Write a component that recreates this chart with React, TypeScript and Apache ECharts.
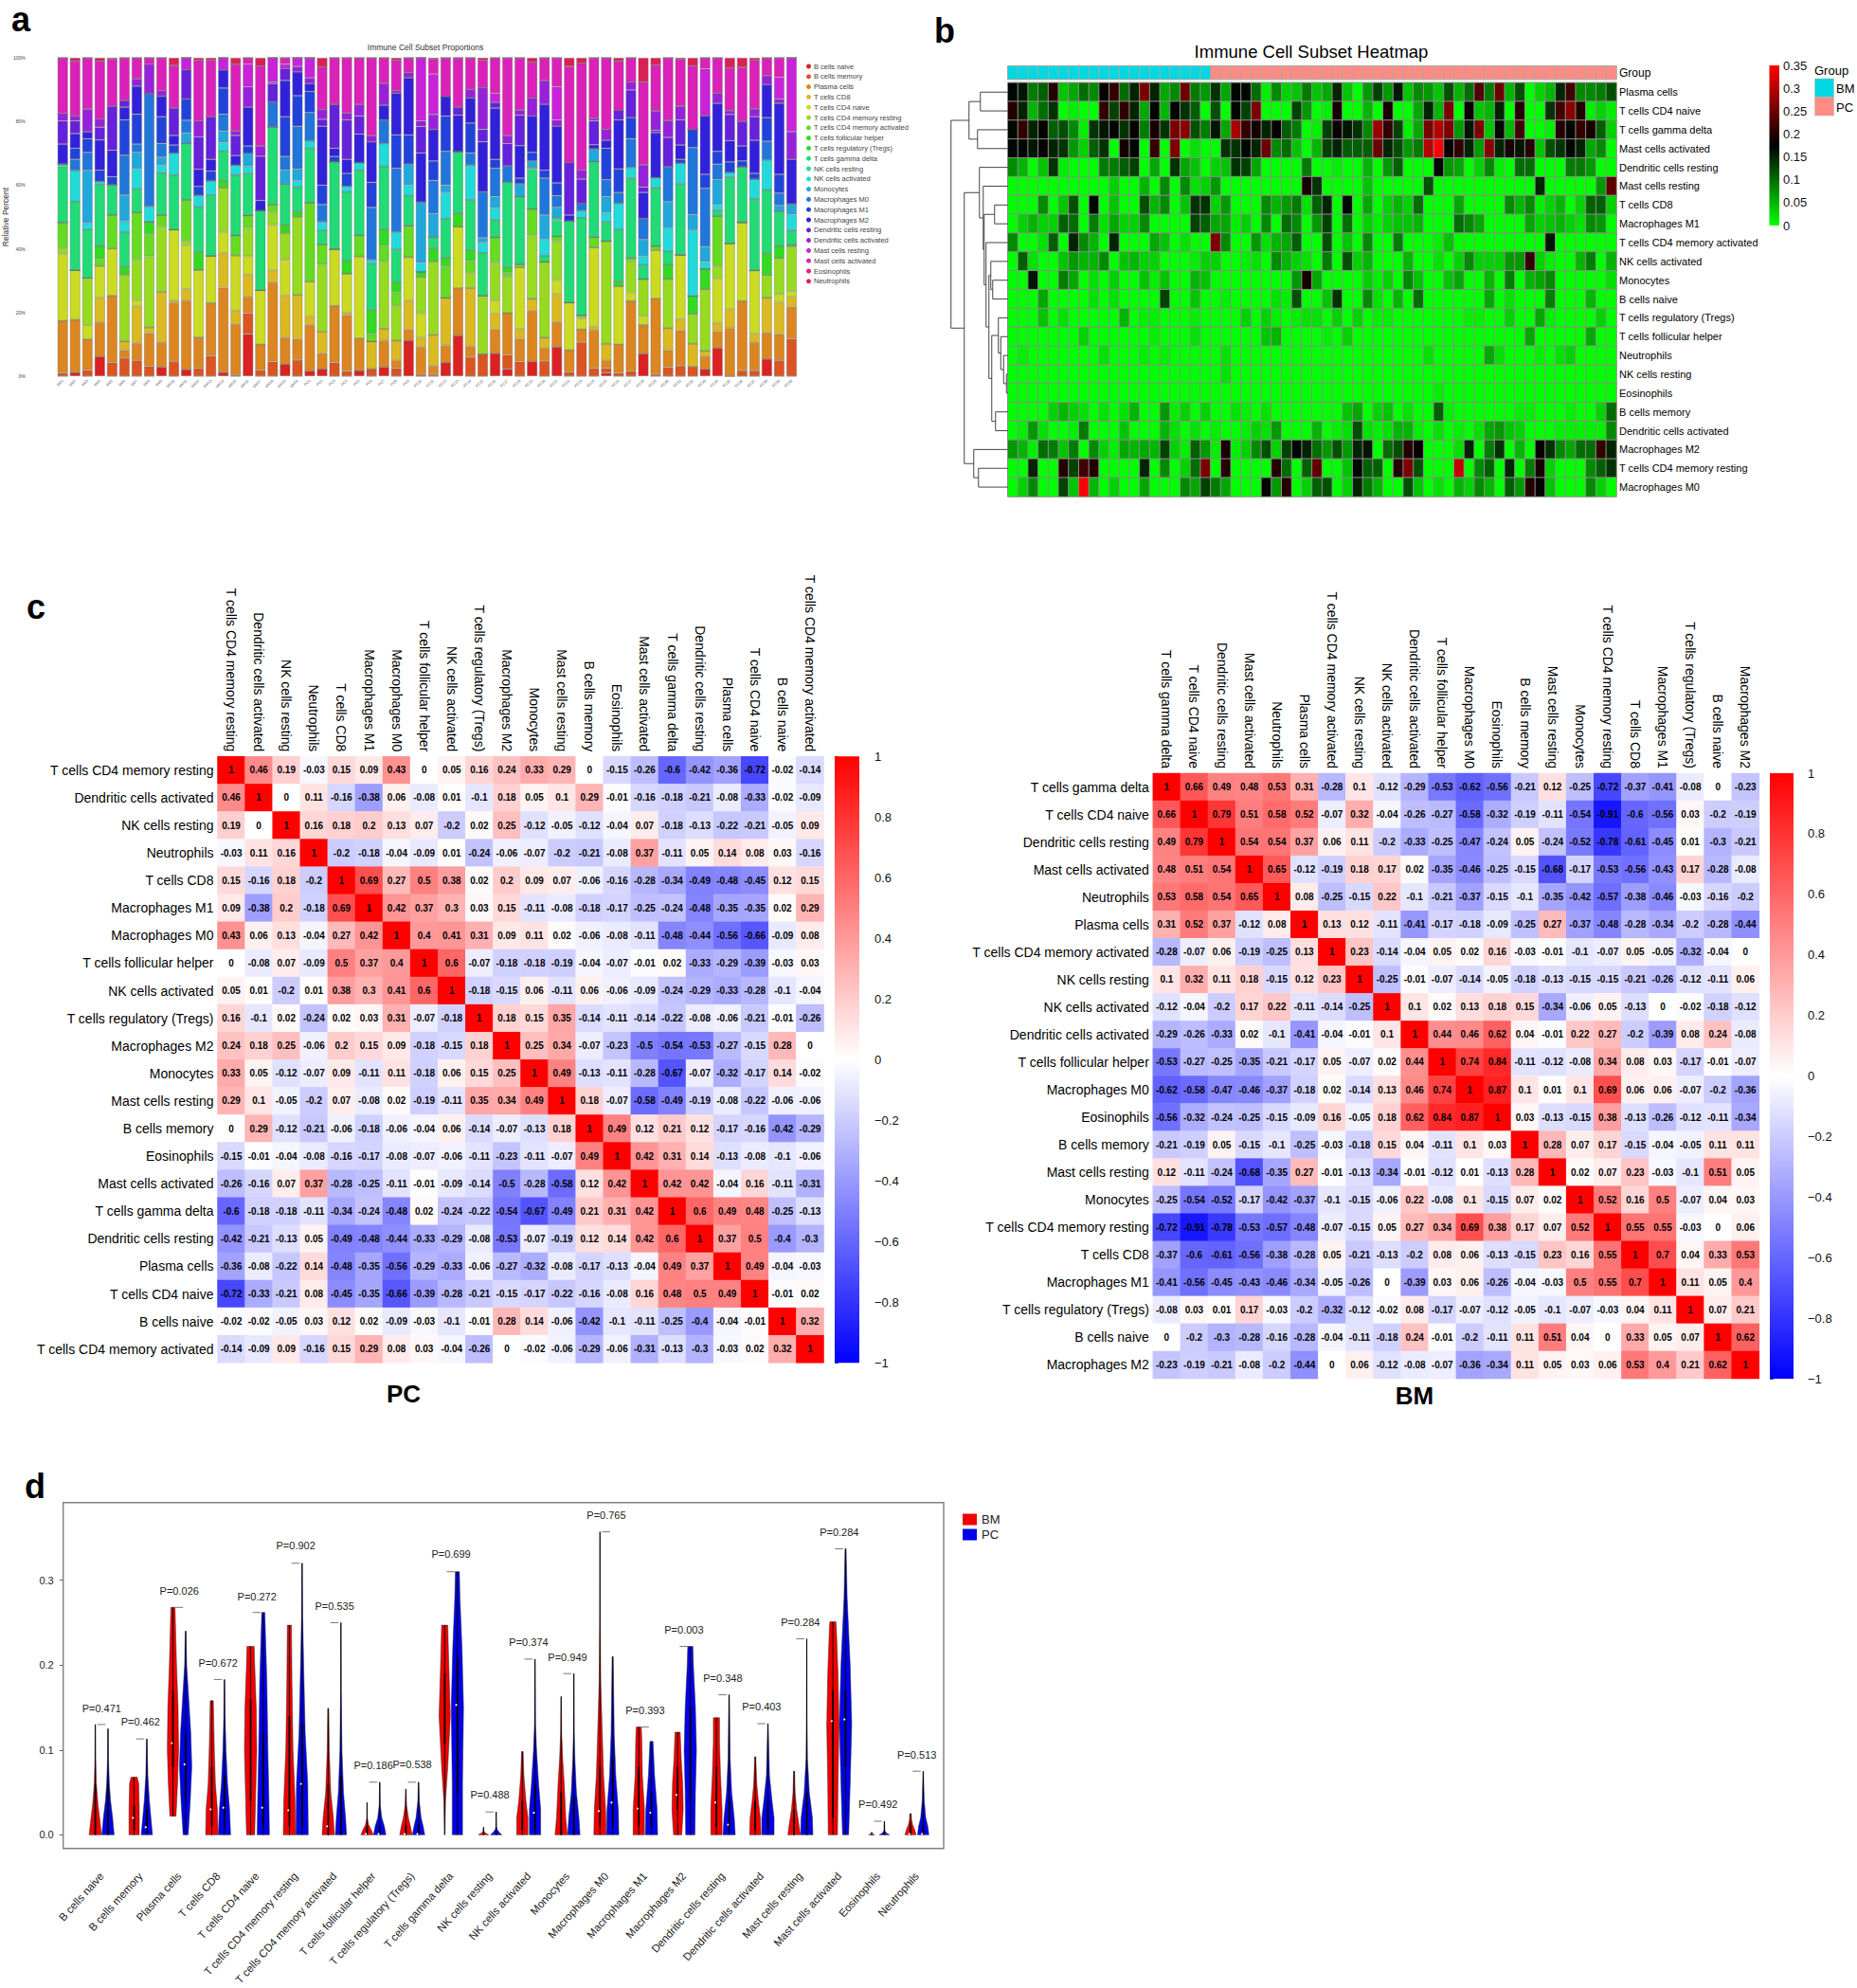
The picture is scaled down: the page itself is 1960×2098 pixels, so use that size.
import React, { useEffect, useRef } from "react";
import * as echarts from "echarts";

const FONT = "Liberation Sans";

// ---------- panel a: stacked proportions ----------
const cellTypes = ["B cells naive","B cells memory","Plasma cells","T cells CD8","T cells CD4 naive","T cells CD4 memory resting","T cells CD4 memory activated","T cells follicular helper","T cells regulatory (Tregs)","T cells gamma delta","NK cells resting","NK cells activated","Monocytes","Macrophages M0","Macrophages M1","Macrophages M2","Dendritic cells resting","Dendritic cells activated","Mast cells resting","Mast cells activated","Eosinophils","Neutrophils"];
const cellColors = ["#db2121","#db5421","#db8621","#dbb921","#cadb21","#97db21","#65db21","#32db21","#21db43","#21db76","#21dba8","#21dbdb","#21a8db","#2176db","#2143db","#3221db","#6521db","#9721db","#ca21db","#db21b9","#db2186","#db2154"];
const yPercentTicks = [0, 20, 40, 60, 80, 100];
// each sample: pairs of (cell type index, cumulative percent at the top of that segment)
const sampleStacks = [
[1,1,2,17.4,4,38.4,5,40.2,6,48.3,9,65.9,10,66.7,15,72.9,16,80.2,17,82.6,19,100],
[0,1.2,2,17.7,4,33.3,9,54.9,11,64.6,13,68.1,14,71.6,15,76.2,16,80.2,17,81.7,19,99,21,100],
[1,1.9,2,11.6,4,16,5,30.9,9,46,11,48,12,64.6,13,70.3,14,74.6,15,76.8,17,83.9,19,100],
[0,6.1,2,17,3,24.7,4,34.6,6,36.8,7,40.9,9,60.2,11,61.2,14,64.7,15,74.2,16,78.2,17,80.8,19,99,21,100],
[1,4.3,2,25.3,4,40.1,6,50.7,9,60.2,14,62.7,15,71,16,84.8,19,99.6,21,100],
[1,5.7,2,8.2,3,10.9,5,31.9,7,34.5,9,45.3,11,48.6,12,56.9,13,69.4,14,80.5,15,84.5,16,86.6,19,100],
[1,5,2,10.4,3,22.1,4,23.8,5,36.6,6,51.5,9,58.9,11,65.1,12,70.3,13,72.9,14,82.3,15,91.1,17,93.4,19,100],
[1,3.1,2,13.5,3,15.3,5,37.7,6,44.6,7,48.5,11,53.3,13,88.7,17,98,19,100],
[0,2.8,2,10.7,3,26.5,5,47,6,50.6,9,63.8,11,66.3,12,68.8,13,73.1,14,81.5,15,87.9,17,89.7,19,100],
[1,4.7,2,23.1,3,23.9,4,46,9,63.2,11,70.1,14,72.6,15,75.6,16,84.2,19,97.6,21,100],
[0,2.1,2,23.8,3,27.3,4,41.1,5,42.6,6,55.4,9,73.1,12,76.4,13,80.4,14,87.1,16,96.3,18,100],
[1,2.5,2,12.2,4,33.4,7,39,9,53.1,11,56.8,14,59.6,15,65,16,75.2,17,80.2,19,99.3,21,100],
[1,6.4,2,23,4,37.8,9,56.9,11,61.4,14,64.4,15,68.1,16,81.5,19,99.3,21,100],
[0,1.2,2,27.8,3,38.7,4,45.3,5,59.2,7,61.4,9,70.7,11,73.4,12,77,13,82.3,14,90.5,15,96.2,18,100],
[1,0.3,2,16.4,3,20.6,4,37.9,6,44.2,9,63.2,11,66.3,15,69.3,16,75.6,17,77,19,98,21,100],
[0,13.2,1,19.8,2,25,3,32,4,37.7,5,46.6,6,50.5,9,63.7,11,65.9,12,69.9,14,72.3,15,84.5,17,90.9,18,98,19,100],
[1,1.9,2,10,4,27,9,52,15,55.2,16,69.1,17,72.3,19,97.4,21,100],
[1,4.6,2,29.5,3,33.3,4,47.5,5,51.5,6,53.9,9,78.3,13,86.2,16,91.9,17,92.4,18,100],
[0,3.8,2,12.2,3,25.3,4,36.6,5,45,7,47.5,9,60.4,12,64.7,13,69,14,81.5,15,92.9,16,96.6,18,98,19,100],
[1,5.1,2,11.7,3,25.5,5,50.1,7,51.8,9,59.4,11,61.4,12,65,13,78.5,14,88.1,15,95.6,17,97.3,18,100],
[0,1.6,2,16.1,3,18.8,4,29.7,6,54.5,9,71.6,11,73.9,13,82.8,14,89.4,15,91.9,17,93.7,18,100],
[0,2.3,2,7.2,3,14,5,35,6,41.4,9,45.8,11,48.5,13,53.9,14,60,15,78.5,16,80.7,17,83.8,19,97.2,21,100],
[1,4.3,2,22.1,4,39.9,9,67.4,14,69,15,71.6,16,85.4,19,100],
[1,1.6,2,19.2,3,20,4,32.2,7,36.2,9,57.9,11,59.7,14,63.7,15,68.1,16,80.5,17,82.7,19,100],
[0,1.8,2,11.9,4,37.6,6,44.2,9,64.7,11,67.1,15,76,16,81.7,17,85.4,19,100],
[1,2.3,3,10.9,6,13.2,7,20.8,9,35.4,11,36.6,13,53,14,60.9,15,73.6,17,75.6,19,100],
[0,2.8,2,11.2,3,14.9,5,35.9,6,40.9,7,46.1,9,65.9,11,73.1,13,80.5,15,85.1,17,92,19,100],
[1,2.5,2,5,3,11.2,5,22.1,6,26.3,7,29.5,9,39.9,11,45.3,13,65.3,14,75.8,15,88.9,17,89.7,19,99.3,21,100],
[0,11.2,2,14.7,3,23.8,4,37.4,6,47.3,9,56.7,11,60,12,66.6,14,75.8,15,93.7,17,95.4,19,100],
[1,0.6,2,9.2,3,12.1,4,19.8,5,31.2,7,32.8,11,35.6,12,54.7,15,70.1,16,78.4,17,80.2,18,100],
[1,0.6,2,3.2,3,13,5,36.1,7,40.2,9,43.7,12,51,13,61.5,14,67.6,15,77.5,17,82.2,18,94.9,19,99.6,21,100],
[0,4.3,2,9.7,3,24.6,6,34.5,7,37.1,9,49.5,11,57.7,12,60,13,70.6,14,81.7,15,87.9,19,100],
[0,12.7,2,27.7,4,47,7,51.1,9,70.6,15,82,16,84.5,19,100],
[1,6,2,9.4,3,27.7,5,32.5,6,36.2,7,39.6,9,55.4,11,66.3,13,70.1,14,79.5,15,87.4,17,90.1,19,100],
[1,6.9,5,25.3,9,38.8,11,41.9,12,43.4,13,57.9,15,73.6,16,77.5,17,90.7,19,99.3,21,100],
[0,7.2,2,14.7,3,19.6,4,23.8,5,35.7,6,43.6,9,49.1,11,52.8,12,56.4,13,65.3,14,68.1,15,84.2,16,86,18,88.9,19,100],
[0,2.3,1,6.7,2,19.8,5,31.3,6,32.5,7,34.2,9,61,13,66.1,16,73.1,17,75.6,19,100],
[1,4.6,2,11.7,3,14.9,4,34.2,6,35.2,9,56.4,12,60.4,14,62.2,15,72.4,16,82,17,83.6,19,100],
[0,4.6,2,20.6,3,24.3,5,44.2,6,52.5,9,64.9,10,65.6,12,67.6,14,70.3,15,81.7,17,87.4,19,98.6,21,100],
[1,4.8,2,8.9,3,12.1,5,35.9,9,37.9,11,42.9,12,50.6,13,62.2,14,64.7,15,85.4,17,92.9,19,100],
[0,9.2,2,17,3,25.8,4,30.2,5,42.4,6,43.9,9,48.8,10,49.8,12,53,13,56.7,14,60.7,15,78.5,17,80.5,18,90.9,19,100],
[1,1.3,2,8.2,4,23.1,9,48.8,15,50.6,16,67.1,19,97.3,21,100],
[1,10.7,2,14.7,4,18.1,5,19.1,9,49.8,11,52,13,54.3,16,61.9,17,64.7,19,98.3,21,100],
[1,2.5,2,14.5,3,15.6,4,40.4,6,43.7,9,67.4,12,71.4,15,72.7,16,80.2,17,81,19,100],
[0,1,1,2.5,2,5,3,10.2,5,42.4,9,48.5,11,51.3,12,56.4,13,61.7,14,71.6,15,74.1,17,77.5,19,100],
[1,1,2,10,4,28.3,7,29.8,9,46,11,54.3,13,57.7,14,65.1,15,80.5,16,83.5,19,99,21,100],
[1,1.6,2,23.6,4,26.3,5,36.1,6,37.2,9,62.2,11,65.6,13,74.6,14,81.2,16,89.9,17,92.4,19,100],
[0,7,2,16.1,4,19,5,30.5,9,35,11,37.6,12,42.9,13,49.5,15,57.7,16,59.4,17,66.4,19,92.4,21,100],
[1,0.6,2,24.4,4,39.6,6,40.9,9,59.2,11,62.4,15,76.5,16,77.2,17,83.3,19,97.8,21,100],
[1,2.8,2,8.2,3,15.1,5,30.5,7,35,9,39.2,11,46.5,12,54.8,13,65.8,16,75,17,80.3,19,100],
[1,3.3,2,14.4,3,17.9,4,38.1,9,60.4,11,66.9,14,68.1,15,72.6,16,80.5,17,84.8,19,99.6,21,100],
[1,3,3,10.2,5,19.6,7,25.2,11,45.8,12,50.8,13,71.8,14,77.5,19,97.5,21,100],
[0,2.2,2,6.2,3,7.9,5,27.3,7,33.7,11,35.9,12,40.7,13,59,14,63.4,15,81.8,18,96.6,19,100],
[0,8.9,2,14.1,3,16.8,4,30.7,5,34.5,6,50.3,9,52.1,11,53.8,12,61.7,13,66.6,14,70.6,15,85.7,17,88.9,19,100],
[2,15.1,3,21.1,4,41.7,9,62.5,11,64,14,67.3,15,74,16,82.2,17,83.4,19,96.8,21,100],
[1,1.8,2,23.6,4,48.3,9,65.8,14,67.6,15,72.3,16,80,19,97,21,100],
[1,1.8,2,10.7,3,13.4,4,33.2,9,55.7,11,61.9,14,63.7,15,74.1,16,81.5,17,84,19,99.3,21,100],
[0,5.4,2,13.7,3,24.6,5,31.8,7,38.7,9,58.5,11,67.9,13,73.8,14,81.2,15,91.6,17,94.4,19,100],
[1,5,2,13.2,3,23.1,4,25.8,5,37.1,7,40.9,9,51.8,12,53.6,13,57.5,14,63.4,15,85.7,17,87.1,18,93.9,19,100],
[1,11.7,2,21.8,3,24.9,4,26.7,5,40.4,6,41.2,9,45.8,11,50.8,12,54.1,15,68.1,17,76.8,18,100],
];
const sampleNames = sampleStacks.map((_, i) => (i < 20 ? "BM" + (i + 1) : "PC" + (i - 19)));
const sampleGroups = sampleStacks.map((_, i) => (i < 20 ? 0 : 1));

// ---------- panel b: heatmap, values in hundredths ----------
const heatLabels = ["Plasma cells","T cells CD4 naive","T cells gamma delta","Mast cells activated","Dendritic cells resting","Mast cells resting","T cells CD8","Macrophages M1","T cells CD4 memory activated","NK cells activated","Monocytes","B cells naive","T cells regulatory (Tregs)","T cells follicular helper","Neutrophils","NK cells resting","Eosinophils","B cells memory","Dendritic cells activated","Macrophages M2","T cells CD4 memory resting","Macrophages M0"];
const heatRows = [
[17,16,9,11,20,4,6,10,8,18,21,10,15,26,15,6,8,25,9,7,14,6,17,17,10,1,8,3,4,9,4,6,15,4,0,7,13,7,16,4,8,7,4,12,5,10,23,9,25,5,12,0,3,5,15,22,8,8,9,12],
[20,15,5,10,14,0,1,0,0,21,13,21,15,6,17,5,17,14,11,0,12,0,17,13,26,0,0,0,13,7,0,1,19,0,0,5,0,19,0,0,6,15,5,26,0,18,4,5,15,0,20,0,0,14,22,27,20,1,3,1],
[17,21,15,18,11,12,8,1,14,16,17,14,18,9,19,14,26,27,12,9,16,6,29,21,19,15,18,11,9,0,1,13,18,16,14,8,28,21,13,1,6,26,30,26,7,16,26,4,17,5,22,0,0,1,20,17,21,19,11,3],
[17,17,16,18,15,14,7,3,11,14,0,19,17,0,21,0,26,0,2,0,0,14,14,17,15,25,8,10,4,0,5,13,15,11,11,11,25,15,12,7,9,30,35,18,21,15,7,27,15,19,16,20,4,12,14,17,15,6,8,0],
[8,5,0,4,14,1,0,0,0,9,9,11,13,0,6,0,14,6,4,0,3,4,14,13,6,0,0,0,0,9,0,0,1,0,0,5,0,7,11,0,0,0,17,7,6,0,3,8,1,0,10,10,0,0,0,9,9,7,0,0],
[0,0,0,0,0,0,0,0,0,0,3,0,0,5,0,8,0,8,2,3,7,0,0,0,0,0,0,0,0,19,14,0,0,0,0,4,0,0,0,0,0,12,0,0,0,0,0,0,0,0,0,0,15,0,0,0,0,0,7,24],
[0,0,0,8,0,4,12,0,17,0,4,0,0,12,5,8,0,4,14,14,3,7,0,0,0,8,5,7,9,2,11,15,0,17,0,6,0,3,5,3,10,0,0,0,6,0,0,0,0,8,5,8,1,3,5,0,3,11,11,3],
[0,3,5,3,3,11,10,0,9,2,6,3,3,8,0,0,0,0,13,11,6,6,1,3,0,8,0,10,8,0,7,13,0,10,0,3,1,3,4,4,5,0,0,0,10,8,6,0,0,0,0,6,3,4,5,3,2,8,7,0],
[8,0,0,2,11,0,15,8,5,0,15,0,0,0,6,4,0,2,0,0,26,8,0,0,7,2,5,6,11,0,0,12,0,4,0,8,0,0,9,0,0,0,1,4,0,0,0,0,0,0,0,0,0,16,0,0,0,0,0,0],
[0,11,2,0,0,4,7,5,5,8,0,4,5,3,3,0,0,0,1,3,3,0,0,1,2,0,8,5,3,2,0,9,0,12,3,5,0,0,0,5,0,0,2,0,3,8,3,3,3,7,7,21,3,1,0,0,5,9,0,5],
[0,0,16,0,0,9,6,0,2,0,3,0,0,4,1,4,0,0,5,4,0,0,0,0,0,0,0,0,7,19,6,0,0,0,0,3,1,3,0,8,4,0,0,4,6,0,0,5,0,9,0,5,6,8,0,0,0,0,0,2],
[0,0,0,6,0,0,0,0,2,0,2,0,0,0,0,13,0,0,4,0,0,1,0,0,0,0,2,1,12,0,0,4,14,0,0,8,2,0,5,0,10,0,0,0,0,0,0,6,0,2,0,0,0,9,0,0,0,5,0,0],
[0,0,0,4,0,2,0,0,0,0,0,5,0,1,1,0,0,0,1,0,0,0,0,3,0,3,1,0,1,2,2,0,3,0,3,0,1,1,0,0,0,0,0,0,0,1,1,0,0,3,0,0,6,1,0,0,0,0,3,0],
[0,0,0,0,0,0,0,3,0,0,0,0,0,0,1,0,0,0,2,0,0,0,0,0,0,4,5,0,0,0,0,1,0,3,0,0,0,0,0,0,0,0,0,0,0,0,0,0,0,0,0,6,0,0,0,0,0,6,0,0],
[0,1,0,0,0,0,0,0,0,2,0,0,0,1,0,1,0,0,0,0,0,2,0,0,0,0,0,0,0,0,0,0,0,0,0,0,0,0,0,0,0,2,0,0,0,0,0,6,2,0,0,0,1,0,2,3,0,0,0,0],
[0,0,0,0,0,0,0,0,0,0,0,0,0,0,0,0,0,0,0,0,0,2,0,0,0,0,0,0,0,0,0,0,0,0,0,0,0,0,0,0,0,0,0,0,0,0,0,0,0,0,0,0,0,0,0,0,0,0,0,0],
[0,0,0,0,0,0,0,0,0,0,0,0,0,0,0,0,0,0,0,0,0,0,0,0,0,0,0,0,0,0,0,0,0,0,0,0,0,0,0,0,0,0,1,0,0,0,0,0,0,0,0,0,0,0,0,0,0,0,0,0],
[0,0,0,0,3,5,3,2,0,2,0,2,5,0,0,7,1,3,0,3,0,0,2,1,0,2,0,0,0,0,0,0,0,4,6,0,3,4,0,2,0,0,11,1,0,0,0,0,0,0,1,1,0,0,0,1,0,0,3,10],
[0,1,7,2,0,0,1,9,0,0,0,4,0,0,0,5,2,0,2,0,1,0,0,1,3,2,7,0,0,0,5,0,1,2,12,2,1,2,5,5,1,0,2,0,1,0,2,6,7,4,3,0,0,0,1,1,1,1,1,8],
[7,5,1,10,9,4,9,0,8,3,1,6,5,6,5,13,3,1,11,7,1,19,1,3,8,12,3,13,17,15,10,7,12,7,15,16,0,10,12,20,18,0,0,0,2,15,0,9,14,0,5,0,18,14,8,6,10,10,21,15],
[0,0,15,0,0,20,13,22,20,0,0,0,0,15,0,8,0,3,10,26,0,20,0,0,0,0,20,10,0,11,24,0,0,4,17,11,11,0,20,26,12,0,0,0,31,0,8,11,0,15,0,9,19,3,0,0,0,8,11,14],
[0,3,8,0,0,13,4,35,5,0,3,0,0,6,0,0,0,8,6,13,9,6,0,0,0,17,7,20,0,3,11,12,0,3,15,9,5,0,0,12,4,0,2,0,5,3,8,5,0,11,7,20,18,4,0,0,0,8,3,0],
];
// dendrogram: [merge height, left child, right child], leaves are row indices
const rowTree: any = [60,
  [41, [29, 0, 1], [32, 2, 3]],
  [46,
    [30, 4, [26, 5, [25, [14, 6, 7], [23, 8, [20, [18, 9, [16, 10, 11]], [17, [10, 12, [7.5, 13, [4.5, 14, [1.5, 15, 16]]]], [13, 17, 18]]]]]]],
    [36, 19, [31, 20, 21]]]];

// ---------- panel c: correlation matrices (lower triangle, diagonal is 1) ----------
const pcLabels = ["T cells CD4 memory resting","Dendritic cells activated","NK cells resting","Neutrophils","T cells CD8","Macrophages M1","Macrophages M0","T cells follicular helper","NK cells activated","T cells regulatory (Tregs)","Macrophages M2","Monocytes","Mast cells resting","B cells memory","Eosinophils","Mast cells activated","T cells gamma delta","Dendritic cells resting","Plasma cells","T cells CD4 naive","B cells naive","T cells CD4 memory activated"];
const pcCorr = [
[],
[.46],
[.19,0],
[-.03,.11,.16],
[.15,-.16,.18,-.2],
[.09,-.38,.2,-.18,.69],
[.43,.06,.13,-.04,.27,.42],
[0,-.08,.07,-.09,.5,.37,.4],
[.05,.01,-.2,.01,.38,.3,.41,.6],
[.16,-.1,.02,-.24,.02,.03,.31,-.07,-.18],
[.24,.18,.25,-.06,.2,.15,.09,-.18,-.15,.18],
[.33,.05,-.12,-.07,.09,-.11,.11,-.18,.06,.15,.25],
[.29,.1,-.05,-.2,.07,-.08,.02,-.19,-.11,.35,.34,.49],
[0,.29,-.12,-.21,-.06,-.18,-.06,-.04,.06,-.14,-.07,-.13,.18],
[-.15,-.01,-.04,-.08,-.16,-.17,-.08,-.07,-.06,-.11,-.23,-.11,-.07,.49],
[-.26,-.16,.07,.37,-.28,-.25,-.11,-.01,-.09,-.14,-.5,-.28,-.58,.12,.42],
[-.6,-.18,-.18,-.11,-.34,-.24,-.48,.02,-.24,-.22,-.54,-.67,-.49,.21,.31,.42],
[-.42,-.21,-.13,.05,-.49,-.48,-.44,-.33,-.29,-.08,-.53,-.07,-.19,.12,.14,.42,.6],
[-.36,-.08,-.22,.14,-.48,-.35,-.56,-.29,-.33,-.06,-.27,-.32,-.08,-.17,-.13,-.04,.49,.37],
[-.72,-.33,-.21,.08,-.45,-.35,-.66,-.39,-.28,-.21,-.15,-.17,-.22,-.16,-.08,.16,.48,.5,.49],
[-.02,-.02,-.05,.03,.12,.02,-.09,-.03,-.1,-.01,.28,.14,-.06,-.42,-.1,-.11,-.25,-.4,-.04,-.01],
[-.14,-.09,.09,-.16,.15,.29,.08,.03,-.04,-.26,0,-.02,-.06,-.29,-.06,-.31,-.13,-.3,-.03,.02,.32],
];
const bmLabels = ["T cells gamma delta","T cells CD4 naive","Dendritic cells resting","Mast cells activated","Neutrophils","Plasma cells","T cells CD4 memory activated","NK cells resting","NK cells activated","Dendritic cells activated","T cells follicular helper","Macrophages M0","Eosinophils","B cells memory","Mast cells resting","Monocytes","T cells CD4 memory resting","T cells CD8","Macrophages M1","T cells regulatory (Tregs)","B cells naive","Macrophages M2"];
const bmCorr = [
[],
[.66],
[.49,.79],
[.48,.51,.54],
[.53,.58,.54,.65],
[.31,.52,.37,-.12,.08],
[-.28,-.07,.06,-.19,-.25,.13],
[.1,.32,.11,.18,-.15,.12,.23],
[-.12,-.04,-.2,.17,.22,-.11,-.14,-.25],
[-.29,-.26,-.33,.02,-.1,-.41,-.04,-.01,.1],
[-.53,-.27,-.25,-.35,-.21,-.17,.05,-.07,.02,.44],
[-.62,-.58,-.47,-.46,-.37,-.18,.02,-.14,.13,.46,.74],
[-.56,-.32,-.24,-.25,-.15,-.09,.16,-.05,.18,.62,.84,.87],
[-.21,-.19,.05,-.15,-.1,-.25,-.03,-.18,.15,.04,-.11,.1,.03],
[.12,-.11,-.24,-.68,-.35,.27,-.01,-.13,-.34,-.01,-.12,.01,-.13,.28],
[-.25,-.54,-.52,-.17,-.42,-.37,-.1,-.15,-.06,.22,-.08,.1,-.15,.07,.02],
[-.72,-.91,-.78,-.53,-.57,-.48,-.07,-.15,.05,.27,.34,.69,.38,.17,.07,.52],
[-.37,-.6,-.61,-.56,-.38,-.28,.05,-.21,-.13,-.2,.08,.06,-.13,-.15,.23,.16,.55],
[-.41,-.56,-.45,-.43,-.46,-.34,-.05,-.26,0,-.39,.03,.06,-.26,-.04,-.03,.5,.55,.7],
[-.08,.03,.01,.17,-.03,-.2,-.32,-.12,-.02,.08,-.17,-.07,-.12,-.05,-.1,-.07,-.03,.04,.11],
[0,-.2,-.3,-.28,-.16,-.28,-.04,-.11,-.18,.24,-.01,-.2,-.11,.11,.51,.04,0,.33,.05,.07],
[-.23,-.19,-.21,-.08,-.2,-.44,0,.06,-.12,-.08,-.07,-.36,-.34,.11,.05,.03,.06,.53,.4,.21,.62],
];

// ---------- panel d: violins ----------
const violinCats = ["B cells naive","B cells memory","Plasma cells","T cells CD8","T cells CD4 naive","T cells CD4 memory resting","T cells CD4 memory activated","T cells follicular helper","T cells regulatory (Tregs)","T cells gamma delta","NK cells resting","NK cells activated","Monocytes","Macrophages M0","Macrophages M1","Macrophages M2","Dendritic cells resting","Dendritic cells activated","Mast cells resting","Mast cells activated","Eosinophils","Neutrophils"];
const pValues = ["P=0.471","P=0.462","P=0.026","P=0.672","P=0.272","P=0.902","P=0.535","P=0.186","P=0.538","P=0.699","P=0.488","P=0.374","P=0.949","P=0.765","P=0.393","P=0.003","P=0.348","P=0.403","P=0.284","P=0.284","P=0.492","P=0.513"];
const pLabelHeights = [.149,.133,.287,.203,.281,.341,.27,.082,.083,.331,.047,.227,.209,.377,.147,.242,.185,.151,.251,.357,.036,.094];
const bracketHeights = [.13,.113,.268,.183,.262,.32,.25,.062,.062,.31,.027,.207,.19,.357,.127,.222,.165,.131,.231,.337,.016,.075];
const medianBM = [.002,.02,.108,.03,.125,.029,.01,.001,.001,.146,0,.024,.002,.028,.031,.047,.038,.016,0,.134,0,.001];
const medianPC = [.002,.009,.083,.032,.032,.06,0,.001,.001,.153,0,.026,.003,.038,.026,.098,.012,.021,0,.136,0,.001];
const boxBM = [[0,.06],[.005,.035],[.08,.17],[.01,.08],[.04,.16],[.01,.14],[0,.06],[0,.01],[0,.012],[.107,.19],[0,.001],[.005,.04],[0,.05],[.01,.08],[.01,.08],[.03,.08],[.01,.08],[.005,.04],[0,.03],[.02,.17],[0,.0005],[0,.012]];
const boxPC = [[0,.06],[.003,.03],[.04,.12],[.01,.07],[.01,.12],[.01,.13],[0,.07],[0,.012],[0,.012],[.048,.21],[0,.002],[.005,.06],[0,.045],[.01,.09],[.01,.05],[.04,.15],[.003,.04],[.005,.04],[0,.05],[.08,.17],[0,.001],[0,.012]];
// density profile of each violin: [value, half width]
const profileBM = [
[[0,6],[.017,4.5],[.035,2.7],[.06,1],[.09,.4],[.13,.2]],
[[0,5],[.03,5],[.06,4.5],[.068,3]],
[[.022,3],[.06,4.5],[.1,5.5],[.15,5],[.2,3.5],[.268,2]],
[[0,6],[.03,5.5],[.06,3.5],[.1,2.5],[.158,1.5]],
[[0,4],[.05,5],[.1,6],[.15,5.5],[.2,4],[.222,3.5]],
[[0,6],[.04,5.5],[.1,3.5],[.18,2.5],[.247,2]],
[[0,6],[.02,5],[.05,2.5],[.1,1],[.149,.5]],
[[0,6],[.006,4],[.012,1.5],[.02,.3],[.038,.15]],
[[0,6],[.01,4.5],[.02,2.5],[.035,.7],[.054,.2]],
[[0,.2],[.04,.8],[.08,3],[.14,5.5],[.2,4],[.247,3]],
[[0,5],[.002,2],[.004,.5],[.009,.15]],
[[0,5.5],[.02,5.5],[.04,3.5],[.07,1.5],[.098,.8]],
[[0,6],[.02,4.5],[.06,3],[.09,1.5],[.12,.5],[.163,.2]],
[[0,6],[.03,5.5],[.07,3.5],[.13,2],[.18,.8],[.25,.3],[.357,.15]],
[[0,5.5],[.03,5.5],[.07,3.5],[.11,3],[.127,2.5]],
[[0,4],[.03,5.5],[.06,5],[.09,3.5],[.121,2.5]],
[[0,5.5],[.03,5.5],[.07,4],[.11,3],[.138,3]],
[[0,5.5],[.02,5],[.04,3],[.06,1.5],[.092,.5]],
[[0,6],[.01,5],[.03,2.5],[.05,1],[.075,.5]],
[[0,4.5],[.06,5],[.13,6],[.19,5],[.24,3.5],[.251,3]],
[[0,3],[.001,1],[.003,.2]],
[[0,5.5],[.006,4],[.012,2],[.018,1],[.025,.7]],
];
const profilePC = [
[[0,6],[.02,4.5],[.04,2.5],[.06,1.3],[.09,.4],[.125,.2]],
[[0,5.5],[.02,4],[.04,2.5],[.07,1],[.113,.2]],
[[0,2.5],[.04,4.5],[.08,6],[.12,5],[.16,3],[.2,1],[.24,.3]],
[[0,6],[.03,5],[.06,3],[.1,1.5],[.14,.6],[.183,.2]],
[[0,6],[.04,5.5],[.1,4.5],[.18,3.5],[.262,1.5]],
[[0,6],[.06,5.5],[.12,3],[.2,1.5],[.26,.5],[.32,.2]],
[[0,5.5],[.02,4.5],[.05,2.5],[.1,1],[.17,.3],[.25,.15]],
[[0,6],[.01,4.5],[.02,2],[.035,.5],[.062,.2]],
[[0,6],[.01,4.5],[.02,2.5],[.04,.7],[.062,.2]],
[[0,5],[.06,5],[.15,6],[.22,4.5],[.28,2.5],[.31,2]],
[[0,5.5],[.003,3],[.006,1],[.01,.3],[.027,.15]],
[[0,5.5],[.03,5.5],[.06,3.5],[.1,1.5],[.13,.5],[.207,.2]],
[[0,6],[.02,5],[.05,2.5],[.09,1],[.12,.4],[.19,.2]],
[[0,6],[.03,5.5],[.07,3],[.12,1.5],[.21,.5]],
[[0,6],[.03,5.5],[.07,3],[.11,1.5]],
[[0,4.5],[.05,5],[.1,6],[.15,5],[.2,3],[.222,2.5]],
[[0,6],[.02,5],[.05,2.5],[.09,1],[.165,.3]],
[[0,6],[.02,6],[.04,4],[.07,1.5],[.131,.25]],
[[0,6],[.02,5.5],[.05,2.5],[.09,.7],[.14,.3],[.231,.15]],
[[0,3],[.06,4.5],[.13,6],[.2,4.5],[.28,1.5],[.337,.5]],
[[0,5],[.002,2],[.005,.5],[.016,.15]],
[[0,5.5],[.01,4.5],[.02,2.5],[.04,1],[.075,.2]],
];
const violinYTicks = [0, 0.1, 0.2, 0.3];
const violinXTicks = violinCats.map((_, i) => i);

// ---------- helpers ----------
function buildStackSeries() {
  return cellTypes.map((name, s) => {
    const data = sampleStacks.map((pairs) => {
      let prev = 0;
      for (let k = 0; k < pairs.length; k += 2) {
        if (pairs[k] === s) return +(pairs[k + 1] - prev).toFixed(2);
        prev = pairs[k + 1];
      }
      return 0;
    });
    return {
      type: "bar", name, stack: "all", xAxisIndex: 0, yAxisIndex: 0, data, barWidth: 11,
      itemStyle: { color: cellColors[s], borderColor: "rgba(110,110,110,0.55)", borderWidth: 0.7 },
    };
  });
}

function corrData(tri: number[][]) {
  const out: number[][] = [];
  for (let r = 0; r < 22; r++) for (let c = 0; c < 22; c++) {
    const v = r === c ? 1 : r > c ? tri[r][c] : tri[c][r];
    out.push([c, r, v]);
  }
  return out;
}

function treeSegments(tree: any) {
  const segs: number[][] = [];
  const walk = (n: any): { h: number; y: number } => {
    if (typeof n === "number") return { h: 0, y: n };
    const a = walk(n[1]);
    const b = walk(n[2]);
    segs.push([a.h, a.y, n[0], a.y], [b.h, b.y, n[0], b.y], [n[0], a.y, n[0], b.y]);
    return { h: n[0], y: (a.y + b.y) / 2 };
  };
  walk(tree);
  return segs;
}

const gradientBar = (stops: string[], xi: number, yi: number) => ({
  type: "custom", xAxisIndex: xi, yAxisIndex: yi, silent: true, data: [[0.5, 0]],
  renderItem: (p: any) => {
    const cs = p.coordSys;
    return {
      type: "rect",
      shape: { x: cs.x, y: cs.y, width: cs.width, height: cs.height },
      style: {
        fill: new echarts.graphic.LinearGradient(0, 0, 0, 1,
          stops.map((c, i) => ({ offset: i / (stops.length - 1), color: c }))),
      },
    };
  },
});

const violinSeries = (name: string, color: string, off: number, prof: number[][][], med: number[], box: number[][]) => ({
  type: "custom", name, xAxisIndex: 9, yAxisIndex: 9, silent: true, clip: false,
  itemStyle: { color },
  data: violinCats.map((_, i) => [i, med[i]]),
  renderItem: (p: any, api: any) => {
    const i = p.dataIndex;
    const x = api.coord([i, 0])[0] + off;
    const py = (v: number) => api.coord([0, v])[1];
    const pts = prof[i];
    const right = pts.map((q) => [x + q[1] * 1.08, py(q[0])]);
    const left = pts.slice().reverse().map((q) => [x - q[1] * 1.08, py(q[0])]);
    const low = pts[0][0];
    const high = pts[pts.length - 1][0];
    return {
      type: "group",
      children: [
        { type: "polygon", shape: { points: right.concat(left) }, style: { fill: color, stroke: "#2a2a2a", lineWidth: 0.5 } },
        { type: "line", shape: { x1: x, y1: py(low), x2: x, y2: py(high) }, style: { stroke: "#000", lineWidth: 0.9 } },
        { type: "line", shape: { x1: x, y1: py(box[i][0]), x2: x, y2: py(box[i][1]) }, style: { stroke: "#000", lineWidth: 1.8 } },
        { type: "circle", shape: { cx: x - 1.2, cy: py(med[i]), r: 1.1 }, style: { fill: "#fff" } },
      ],
    };
  },
});

const cellAxis = (data: string[], opts: any) => ({
  type: "category", data, axisLine: { show: false }, axisTick: { show: false }, splitLine: { show: false }, ...opts,
});

const corrSeries = (tri: number[][], ai: number) => ({
  type: "heatmap", xAxisIndex: ai, yAxisIndex: ai, data: corrData(tri), progressive: 0, silent: true,
  label: {
    show: true, fontFamily: FONT, fontSize: 10, fontWeight: "bold", color: "#000",
    formatter: (p: any) => String(p.value[2]),
  },
});

const scaleAxis = (gi: number, min: number, max: number, interval: number, margin: number, fmt: any, size: number, ticks: boolean) => ({
  type: "value", gridIndex: gi, position: "right", min, max, interval,
  axisLine: { show: ticks, lineStyle: { color: "#666" } },
  axisTick: { show: ticks, length: 4, lineStyle: { color: "#555" } },
  splitLine: { show: false },
  axisLabel: { formatter: fmt, margin, fontFamily: FONT, fontSize: size, color: "#111" },
});

const hiddenX = (gi: number) => ({ type: "value", gridIndex: gi, min: 0, max: 1, show: false });

const corrFmt = (v: number) => {
  const t = +v.toFixed(1);
  return t < 0 ? "\u2212" + Math.abs(t) : String(t);
};

function buildOption() {
  const heatData: number[][] = [];
  heatRows.forEach((row, r) => row.forEach((v, c) => heatData.push([c, r, v])));
  const letter = (t: string, x: number, y: number) => ({
    type: "text", x, y, style: { text: t, font: `bold 36px "${FONT}"`, fill: "#000", textVerticalAlign: "middle" },
  });
  const plain = (t: string, x: number, y: number, size: number, extra: any = {}) => ({
    type: "text", x, y, style: { text: t, font: `${extra.bold ? "bold " : ""}${size}px "${FONT}"`, fill: extra.fill || "#000", textVerticalAlign: "middle", textAlign: extra.align || "left" },
  });
  return {
    animation: false,
    backgroundColor: "#fff",
    textStyle: { fontFamily: FONT },
    grid: [
      { left: 56, top: 61, width: 786, height: 336 },
      { left: 1063.75, top: 87.3, width: 642.25, height: 436.7 },
      { left: 1063.75, top: 69.7, width: 642.25, height: 14 },
      { left: 1003.75, top: 87.3, width: 60, height: 436.7 },
      { left: 1867.5, top: 69, width: 10.5, height: 169 },
      { left: 229.5, top: 798.3, width: 640, height: 640 },
      { left: 881, top: 798.3, width: 26, height: 640 },
      { left: 1216.8, top: 816, width: 640, height: 639 },
      { left: 1868, top: 816, width: 25, height: 639 },
      { left: 66.7, top: 1585.7, width: 929.3, height: 367.1, show: true, borderColor: "#808080", borderWidth: 1.4 },
    ],
    xAxis: [
      { type: "category", gridIndex: 0, data: sampleNames, axisLine: { show: false }, axisTick: { show: false },
        axisLabel: { interval: 0, rotate: 45, fontSize: 4, margin: 4, color: "#555", fontFamily: FONT } },
      cellAxis(sampleNames, { gridIndex: 1, axisLabel: { show: false } }),
      cellAxis(sampleNames, { gridIndex: 2, axisLabel: { show: false } }),
      { type: "value", gridIndex: 3, min: 0, max: 60, inverse: true, show: false },
      hiddenX(4),
      cellAxis(pcLabels, { gridIndex: 5, position: "top", axisLabel: { interval: 0, rotate: 90, margin: 5, fontSize: 14, color: "#000", fontFamily: FONT } }),
      hiddenX(6),
      cellAxis(bmLabels, { gridIndex: 7, position: "top", axisLabel: { interval: 0, rotate: 90, margin: 5, fontSize: 14, color: "#000", fontFamily: FONT } }),
      hiddenX(8),
      { type: "value", gridIndex: 9, position: "bottom", min: -0.991, max: 21.69, splitLine: { show: false }, axisLine: { show: false, onZero: false }, axisTick: { show: false },
        axisLabel: { customValues: violinXTicks, rotate: 48, margin: 27, fontSize: 11.5, color: "#222", fontFamily: FONT, formatter: (v: number) => violinCats[Math.round(v)] ?? "" } },
    ],
    yAxis: [
      { type: "value", gridIndex: 0, min: 0, max: 100, interval: 20, name: "Relative Percent", nameLocation: "middle", nameGap: 47,
        nameTextStyle: { fontSize: 8.5, color: "#333", fontFamily: FONT }, splitLine: { show: false }, axisLine: { show: false }, axisTick: { show: false },
        axisLabel: { customValues: yPercentTicks, formatter: "{value}%", fontSize: 5, margin: 33, color: "#444", fontFamily: FONT } },
      cellAxis(heatLabels, { gridIndex: 1, position: "right", inverse: true, axisLabel: { interval: 0, margin: 3, fontSize: 11, color: "#000", fontFamily: FONT } }),
      cellAxis(["Group"], { gridIndex: 2, position: "right", axisLabel: { margin: 3, fontSize: 12, color: "#000", fontFamily: FONT } }),
      { type: "value", gridIndex: 3, min: -0.5, max: 21.5, inverse: true, show: false },
      scaleAxis(4, 0, 0.35, 0.05, 4, (v: number) => String(+v.toFixed(2)), 13, false),
      cellAxis(pcLabels, { gridIndex: 5, inverse: true, axisLabel: { interval: 0, margin: 4, fontSize: 14, color: "#000", fontFamily: FONT } }),
      scaleAxis(6, -1, 1, 0.2, 16, corrFmt, 13, true),
      cellAxis(bmLabels, { gridIndex: 7, inverse: true, axisLabel: { interval: 0, margin: 4, fontSize: 14, color: "#000", fontFamily: FONT } }),
      scaleAxis(8, -1, 1, 0.2, 15, corrFmt, 13, true),
      { type: "value", gridIndex: 9, position: "left", min: -0.0161, max: 0.3915, splitLine: { show: false }, axisLine: { show: false, onZero: false },
        axisTick: { show: true, length: 4, customValues: violinYTicks, lineStyle: { color: "#666" } },
        axisLabel: { customValues: violinYTicks, margin: 10, fontSize: 11, color: "#222", fontFamily: FONT, formatter: (v: number) => v.toFixed(1) } },
    ],
    visualMap: [
      { type: "continuous", show: false, min: 0, max: 35, dimension: 2, seriesIndex: 22, inRange: { color: ["#00ff00", "#000000", "#ff0000"] } },
      { type: "piecewise", show: false, dimension: 2, seriesIndex: 23, pieces: [{ value: 0, color: "#00d8e2" }, { value: 1, color: "#ff8c84" }] },
      { type: "continuous", show: false, min: -1, max: 1, dimension: 2, seriesIndex: 26, inRange: { color: ["#0000ff", "#ffffff", "#ff0000"] } },
      { type: "continuous", show: false, min: -1, max: 1, dimension: 2, seriesIndex: 28, inRange: { color: ["#0000ff", "#ffffff", "#ff0000"] } },
    ],
    legend: [
      { data: cellTypes, orient: "vertical", left: 851, top: 66, icon: "circle", itemWidth: 5, itemHeight: 5, itemGap: 2.8, padding: 0,
        itemStyle: { borderWidth: 0 }, selectedMode: false, textStyle: { fontSize: 7.5, color: "#444", fontFamily: FONT, padding: [0, 0, 0, -2] } },
      { data: ["BM", "PC"], orient: "vertical", left: 1016, top: 1597, icon: "rect", itemWidth: 15, itemHeight: 12, itemGap: 3, padding: 0,
        selectedMode: false, textStyle: { fontSize: 13, color: "#222", fontFamily: FONT } },
    ],
    series: [
      ...buildStackSeries(),
      { type: "heatmap", xAxisIndex: 1, yAxisIndex: 1, data: heatData, progressive: 0, silent: true,
        itemStyle: { borderColor: "#8c8c8c", borderWidth: 1 } },
      { type: "heatmap", xAxisIndex: 2, yAxisIndex: 2, data: sampleGroups.map((g, i) => [i, 0, g]), progressive: 0, silent: true,
        itemStyle: { borderColor: "#a8a8a8", borderWidth: 1 } },
      { type: "custom", xAxisIndex: 3, yAxisIndex: 3, silent: true, data: treeSegments(rowTree),
        renderItem: (_: any, api: any) => {
          const a = api.coord([api.value(0), api.value(1)]);
          const b = api.coord([api.value(2), api.value(3)]);
          return { type: "line", shape: { x1: a[0], y1: a[1], x2: b[0], y2: b[1] }, style: { stroke: "#444", lineWidth: 1 } };
        } },
      gradientBar(["#ff0000", "#000000", "#00ff00"], 4, 4),
      corrSeries(pcCorr, 5),
      gradientBar(["#ff0000", "#ffffff", "#0000ff"], 6, 6),
      corrSeries(bmCorr, 7),
      gradientBar(["#ff0000", "#ffffff", "#0000ff"], 8, 8),
      violinSeries("BM", "#f00000", -6.7, profileBM, medianBM, boxBM),
      violinSeries("PC", "#0000e8", 6.7, profilePC, medianPC, boxPC),
      { type: "custom", xAxisIndex: 9, yAxisIndex: 9, silent: true, clip: false,
        data: pValues.map((_, i) => [i, pLabelHeights[i]]),
        renderItem: (p: any, api: any) => {
          const i = p.dataIndex;
          const t = api.coord([i, pLabelHeights[i]]);
          const b = api.coord([i, bracketHeights[i]]);
          return {
            type: "group",
            children: [
              { type: "text", x: t[0], y: t[1], style: { text: pValues[i], font: `11px "${FONT}"`, fill: "#222", textAlign: "center", textVerticalAlign: "middle" } },
              { type: "line", shape: { x1: b[0] - 4.5, y1: b[1], x2: b[0] + 4, y2: b[1] }, style: { stroke: "#777", lineWidth: 1 } },
            ],
          };
        } },
    ],
    graphic: [
      letter("a", 12, 20),
      letter("b", 986, 32),
      letter("c", 28, 640),
      letter("d", 26, 1568),
      plain("Immune Cell Subset Proportions", 449, 50, 8.5, { align: "center", fill: "#333" }),
      plain("Immune Cell Subset Heatmap", 1384, 54, 18.5, { align: "center" }),
      plain("PC", 426, 1471, 26, { align: "center", bold: true }),
      plain("BM", 1493, 1473, 26, { align: "center", bold: true }),
      plain("Group", 1915, 74, 13),
      { type: "rect", shape: { x: 1915.5, y: 83, width: 20, height: 19.5 }, style: { fill: "#00d8e2", stroke: "#bbb", lineWidth: 0.6 } },
      { type: "rect", shape: { x: 1915.5, y: 102.5, width: 20, height: 19.5 }, style: { fill: "#ff8c84", stroke: "#bbb", lineWidth: 0.6 } },
      plain("BM", 1938, 93, 13),
      plain("PC", 1938, 113, 13),
    ],
  };
}

export default function App() {
  const ref = useRef<HTMLDivElement>(null);
  useEffect(() => {
    document.body.style.margin = "0";
    document.body.style.background = "#fff";
    const chart = echarts.init(ref.current!, undefined, { renderer: "svg" });
    chart.setOption(buildOption() as any);
    return () => chart.dispose();
  }, []);
  return <div ref={ref} style={{ width: 1960, height: 2098 }} />;
}
